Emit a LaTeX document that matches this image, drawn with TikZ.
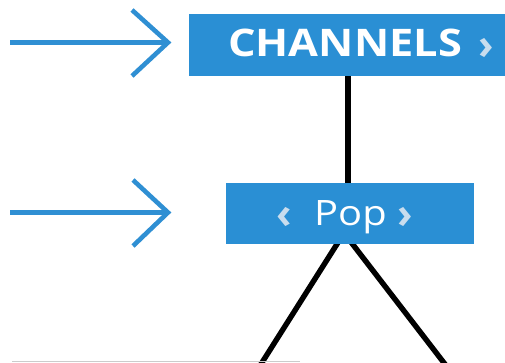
\documentclass[tikz,border=0pt]{standalone}
\usepackage{fontspec}
\setmainfont{Open Sans}
\definecolor{tileblue}{HTML}{2A8FD4}
\definecolor{arrowblue}{HTML}{2F8FD3}
\definecolor{chev}{HTML}{C9DDEE}
\begin{document}
\begin{tikzpicture}[x=1pt,y=-1pt,
  tile/.style={fill=tileblue,draw=none,inner sep=0pt,text=white},
  pointer/.style={draw=arrowblue,line width=4.6pt,line cap=butt},
  branch/.style={draw=black,line width=5.4pt},
  chevstyle/.style={text=chev,inner sep=0pt,anchor=base,font=\bfseries\fontsize{42}{44}\selectfont}]
\useasboundingbox (0,0) rectangle (505,362);
% connectors behind
\coordinate (apex) at (344,233);
\coordinate (leftend) at (256,372);
\coordinate (rightend) at (451,372);
\draw[branch] (apex) -- (leftend);
\draw[branch] (apex) -- (rightend);
% tiles
\node[tile,minimum width=344pt,minimum height=62pt] (chan) at (361,45) {};
\node[text=white,inner sep=0pt,font=\bfseries\fontsize{38}{40}\selectfont,anchor=base west] (chantext) at (228,56.5) {\scalebox{1.14}[1]{CHANNELS}};
\node[chevstyle] (chanchev) at (486,59) {›};
\node[tile,minimum width=248pt,minimum height=61pt] (pop) at (350,213.5) {};
\node[text=white,inner sep=0pt,font=\fontsize{35}{38}\selectfont,anchor=base west] (poptext) at (314,225) {\scalebox{1.14}[1]{Pop}};
\node[chevstyle] (popl) at (284.5,228.5) {‹};
\node[chevstyle] (popr) at (405.5,228.5) {›};
\draw[branch] (pop.north -| 348,0) -- (chan.south -| 348,0);
% pointers
\coordinate (p1s) at (10,42.5);
\coordinate (p1t) at (168,42.5);
\coordinate (p1a) at (132,10);
\coordinate (p1b) at (132,76);
\draw[pointer] (p1s) -- (p1t);
\draw[pointer,line join=miter] (p1a) -- (p1t) -- (p1b);
\coordinate (p2s) at (10,212.5);
\coordinate (p2t) at (168,212.5);
\coordinate (p2a) at (133,180);
\coordinate (p2b) at (133,246);
\draw[pointer] (p2s) -- (p2t);
\draw[pointer,line join=miter] (p2a) -- (p2t) -- (p2b);
% faint edge at bottom
\coordinate (ga) at (12,361.3);
\coordinate (gb) at (300,361.3);
\draw[draw=black!20,line width=0.8pt] (ga) -- (gb);
\end{tikzpicture}
\end{document}
